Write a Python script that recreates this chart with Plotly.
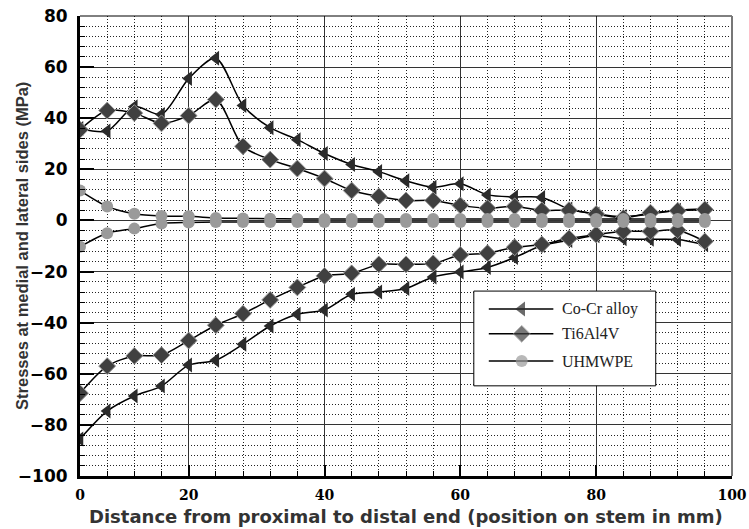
import plotly.graph_objects as go

# Stem positions (mm) at which stresses were evaluated
positions = [4, 8, 12, 16, 20, 24, 28, 32, 36, 40, 44, 48,
             52, 56, 60, 64, 68, 72, 76, 80, 84, 88, 92, 96]

# Stresses (MPa) on the two sides of the stem, per implant material
cocr_side_a = [36, 35, 44.5, 41.5, 55.5, 63.5, 45, 36.3, 31.6, 26.2, 21.9, 19.1,
               15.5, 13, 14.4, 10, 9.2, 9, 4.5, 2.5, 1.5, 2.5, 4, 4.5]
cocr_side_b = [-85.5, -74.6, -68.7, -64.8, -56.6, -54.7, -48.4, -41.3, -36.7, -35, -28.9, -28,
               -26.6, -22.1, -20.2, -18.4, -14.5, -9.8, -7.8, -6.0, -7.2, -7.4, -7.5, -9.5]
ti_side_a = [35.5, 43, 42, 38, 41, 47.3, 29, 23.8, 20.3, 16.4, 11.7, 9.4,
             7.8, 7.8, 5.9, 4.8, 5.5, 3.9, 4.0, 2.5, 1.0, 3.0, 3.8, 4.3]
ti_side_b = [-67.6, -57, -53, -52.7, -47, -41, -36.5, -31.1, -26.2, -21.7, -20.7, -17.2,
             -17.2, -16.8, -13.5, -12.8, -10.5, -9.4, -7, -5.5, -4.3, -4.3, -3.8, -8.2]
pe_side_a = [11.7, 5.5, 2.6, 1.7, 1.6, 1.0, 0.8, 0.7, 0.6, 0.6, 0.6, 0.6,
             0.6, 0.6, 0.6, 0.6, 0.6, 0.6, 0.6, 0.6, 0.6, 0.6, 0.6, 0.6]
pe_side_b = [-10.3, -5.0, -3.2, -1.2, -0.8, -0.6, -0.6, -0.6, -0.6, -0.6, -0.6, -0.6,
             -0.6, -0.6, -0.6, -0.6, -0.6, -0.6, -0.6, -0.6, -0.6, -0.6, -0.6, -0.6]

materials = ["Co-Cr alloy", "Ti6Al4V", "UHMWPE"]
x_tick_positions = [4, 20, 40, 60, 80, 100]
x_tick_labels = ["0", "20", "40", "60", "80", "100"]
y_tick_values = [-100, -80, -60, -40, -20, 0, 20, 40, 60, 80]

markers = [
    dict(symbol="triangle-left", size=13, color="#2b2b2b", line=dict(width=0)),
    dict(symbol="diamond", size=13, color="#404040", line=dict(width=1, color="#9a9a9a")),
    dict(symbol="circle", size=12, color="#9a9a9a", line=dict(width=0)),
]
curves = [(cocr_side_a, cocr_side_b), (ti_side_a, ti_side_b), (pe_side_a, pe_side_b)]

fig = go.Figure()
for name, (side_a, side_b), marker in zip(materials, curves, markers):
    for vals in (side_a, side_b):
        fig.add_trace(go.Scatter(
            x=positions, y=vals, name=name, showlegend=False,
            mode="lines+markers",
            line=dict(color="black", width=1.5, shape="spline", smoothing=0.8),
            marker=marker,
        ))

# Key box drawn on an overlay axis spanning 0..1 across the plot area
KEY_LEFT, KEY_RIGHT, KEY_TOP, KEY_BOTTOM = 0.604, 0.883, 0.402, 0.196
KEY_ROWS = [0.363, 0.309, 0.250]
KEY_LINE = (0.627, 0.6775, 0.726)
KEY_TEXT_X = 0.736

fig.add_trace(go.Scatter(
    x=[KEY_LEFT, KEY_RIGHT, KEY_RIGHT, KEY_LEFT, KEY_LEFT],
    y=[KEY_TOP, KEY_TOP, KEY_BOTTOM, KEY_BOTTOM, KEY_TOP],
    xaxis="x2", yaxis="y2", mode="lines", fill="toself", fillcolor="white",
    line=dict(color="black", width=1), showlegend=False, hoverinfo="skip",
))
for name, row, marker in zip(materials, KEY_ROWS, markers):
    key_marker = dict(marker)
    key_marker["size"] = [0, marker["size"], 0]
    fig.add_trace(go.Scatter(
        x=list(KEY_LINE), y=[row, row, row], xaxis="x2", yaxis="y2",
        mode="lines+markers", line=dict(color="black", width=1.5),
        marker=key_marker, showlegend=False, hoverinfo="skip", cliponaxis=False,
    ))

key_labels = [
    dict(text=name, xref="paper", yref="paper", x=KEY_TEXT_X, y=row,
         xanchor="left", yanchor="middle", showarrow=False,
         font=dict(family="Liberation Serif", size=16, color="#222"))
    for name, row in zip(materials, KEY_ROWS)
]

fig.update_layout(
    width=749, height=529,
    margin=dict(l=80, r=17, t=16, b=53),
    paper_bgcolor="white", plot_bgcolor="white",
    showlegend=False,
    xaxis=dict(
        range=[4, 100], tickvals=x_tick_positions, ticktext=x_tick_labels,
        automargin=False,
        showgrid=True, gridcolor="#333", gridwidth=1,
        showline=True, linecolor="black", linewidth=3,
        ticks="inside", ticklen=11, tickwidth=2, tickcolor="black",
        ticklabelstandoff=4,
        tickfont=dict(family="DejaVu Serif", size=14, color="black", weight="bold"),
        zeroline=False,
        minor=dict(tick0=0, dtick=4, showgrid=True, gridcolor="#222", gridwidth=1,
                   griddash="1px,2px", ticks="inside", ticklen=5, tickwidth=1,
                   tickcolor="black"),
    ),
    yaxis=dict(
        range=[-100, 80], tickvals=y_tick_values,
        automargin=False,
        showgrid=True, gridcolor="#333", gridwidth=1,
        showline=True, linecolor="black", linewidth=3,
        ticks="inside", ticklen=14, tickwidth=2, tickcolor="black",
        ticklabelstandoff=6,
        tickfont=dict(family="DejaVu Sans", size=17, color="black", weight="bold"),
        zeroline=False,
        minor=dict(tick0=0, dtick=4, showgrid=True, gridcolor="#222", gridwidth=1,
                   griddash="1px,2px", ticks="inside", ticklen=5, tickwidth=1,
                   tickcolor="black"),
    ),
    xaxis2=dict(range=[0, 1], overlaying="x", visible=False, fixedrange=True),
    yaxis2=dict(range=[0, 1], overlaying="y", visible=False, fixedrange=True),
    annotations=[
        dict(text="Distance from proximal to distal end (position on stem in mm)",
             xref="paper", yref="paper", x=0.5, y=-0.087, xanchor="center", yanchor="middle",
             showarrow=False,
             font=dict(family="DejaVu Sans", size=18, color="#333", weight="bold")),
        dict(text="Stresses at medial and lateral sides (MPa)",
             xref="paper", yref="paper", x=-0.089, y=0.5, xanchor="center", yanchor="middle",
             textangle=-90, showarrow=False,
             font=dict(family="Liberation Sans", size=16.5, color="#333", weight="bold")),
    ] + key_labels,
    shapes=[
        dict(type="line", xref="paper", yref="paper", x0=0, x1=1, y0=1, y1=1,
             line=dict(color="black", width=1)),
        dict(type="line", xref="paper", yref="paper", x0=1, x1=1, y0=0, y1=1,
             line=dict(color="#777", width=2)),
    ],
)

fig.write_html("out.html")
